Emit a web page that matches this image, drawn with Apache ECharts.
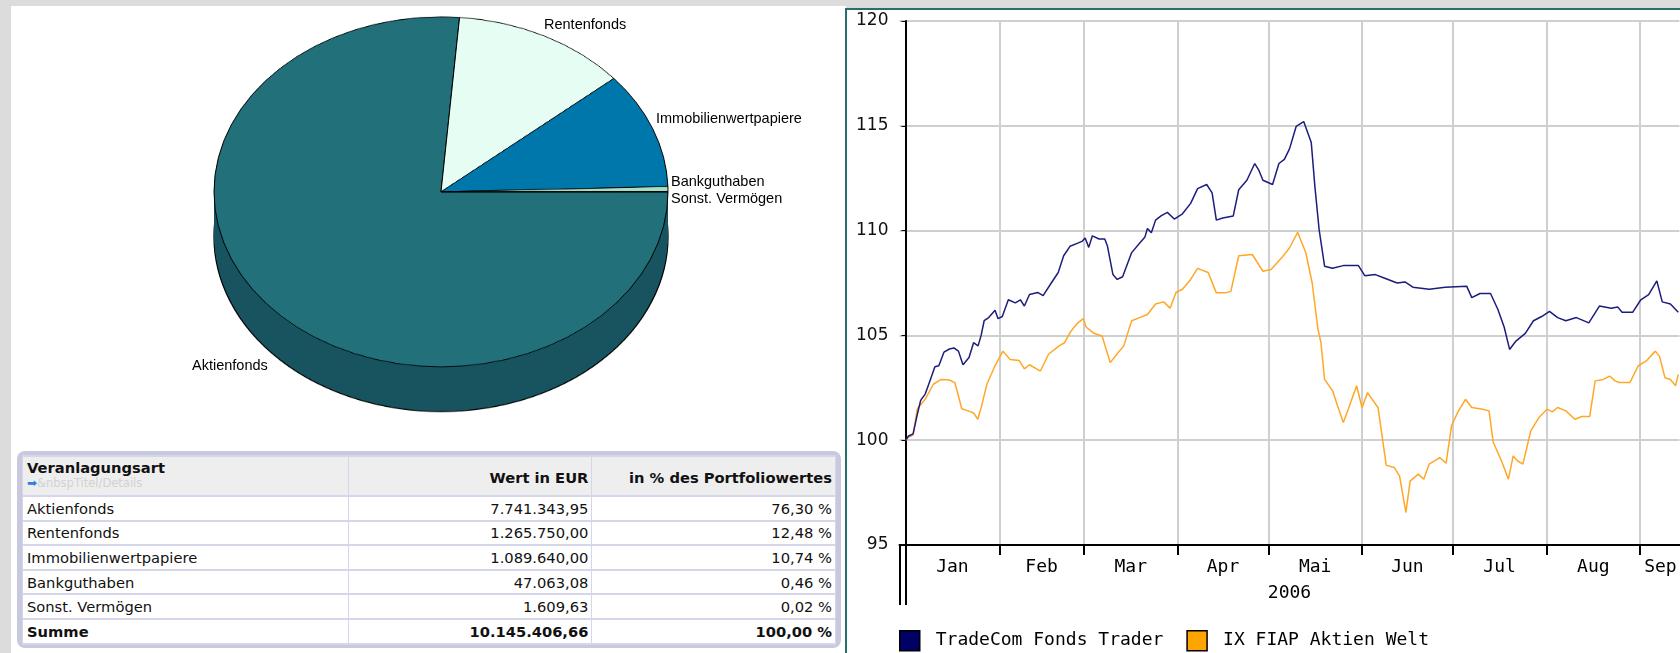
<!DOCTYPE html>
<html>
<head>
<meta charset="utf-8">
<script src="https://cdn.jsdelivr.net/npm/echarts@6/dist/echarts.min.js"></script>
<style>
html, body { margin:0; padding:0; width:1680px; height:653px; overflow:hidden; background:#dcdcdc; }
#leftPanel { position:absolute; left:11px; top:6px; width:835px; height:647px; background:#fff; }
#pie { position:absolute; left:11px; top:6px; width:835px; height:560px; transform-origin:0 0; transform:scaleY(0.7709); }
.pieLabel { position:absolute; font-family:'Liberation Sans', Arial, sans-serif; font-size:14.5px; line-height:1; color:#000; white-space:nowrap; }
#frame { position:absolute; left:17px; top:451px; width:824px; height:197px; background:#c8c8de; border-radius:8px; }
#assetTable { position:absolute; left:22px; top:455px; width:814px; border-collapse:separate; border-spacing:1px 2px; background:#d6d6ea;
  font-family:'DejaVu Sans', Verdana, sans-serif; font-size:14.7px; color:#111; table-layout:fixed; }
#assetTable td { background:#fff; height:22.6px; padding:0 4px; white-space:nowrap; overflow:hidden; line-height:17px; }
#assetTable td.num { text-align:right; padding-right:3px; }
#assetTable tr.head td { background:#eeeeee; height:36px; font-weight:bold; vertical-align:middle; padding-top:2px; padding-bottom:0; }
#assetTable tr.head td.first { vertical-align:top; padding-top:2px; }
#assetTable tr.sum td { font-weight:bold; }
.headMain { display:block; height:17px; line-height:17px; }
.sub { display:block; height:15px; line-height:15px; font-size:11.5px; font-weight:normal; color:#d2d2d2; overflow:hidden; }
.sub .arrow { color:#2f80e0; font-size:12px; font-family:'DejaVu Sans'; }
#rightPanel { position:absolute; left:845px; top:8px; width:840px; height:650px; background:#fff; border-left:2px solid #23706e; border-top:2px solid #23706e; }
#line { position:absolute; left:847px; top:10px; width:833px; height:643px; }
</style>
</head>
<body>
<div id="leftPanel"></div>
<div id="pie"></div>
<div id="frame"></div>
<table id="assetTable"></table>
<div id="rightPanel"></div>
<div id="line"></div>
<script>
// Portfolio composition
const assetNames = ['Aktienfonds', 'Rentenfonds', 'Immobilienwertpapiere', 'Bankguthaben', 'Sonst. Vermögen'];
const assetValues = [7741343.95, 1265750.00, 1089640.00, 47063.08, 1609.63];
const assetShares = [76.30, 12.48, 10.74, 0.46, 0.02];
const pieColors = ['#21707a', '#e6fdf4', '#0077aa', '#a8dcc4', '#3c7f80'];
const sideColor = '#185460';
const pieLabelPos = [[192, 358], [544, 17], [656, 111], [671, 174], [671, 191]];

// Performance 2006 (days since 1 Jan)
const traderDays = [0, 1, 2.5, 4, 5, 6.5, 8, 9.7, 11, 12.7, 14.5, 16, 17.5, 19, 21, 22.5, 24, 25, 26, 27.5, 29.6, 30.6, 32, 34, 36.3, 38, 39.3, 41, 43.7, 45.5, 48.2, 50.5, 52.3, 54.4, 57, 58.5, 59.4, 60.6, 61.8, 64, 65.9, 66.8, 68.6, 70, 71.8, 74.8, 77.4, 79.2, 80, 81.3, 82.7, 84.5, 86.6, 88.9, 91.6, 94.3, 96.6, 99.6, 101.4, 102.8, 104.9, 108.4, 110.2, 112.9, 115.5, 116.8, 118.2, 121.4, 123.5, 125.3, 127, 129.2, 131.7, 134.2, 135.4, 136.8, 138.6, 141.2, 144.8, 149.8, 151.9, 155.4, 158.1, 162.6, 165.2, 167.8, 173.2, 178.5, 185.6, 187.3, 190, 193.5, 195.9, 198, 199.8, 201.9, 205, 207.7, 210.4, 213, 215.7, 218.4, 221.9, 226, 229.5, 233.4, 235.6, 237, 240.5, 243.2, 245.8, 248.5, 250.3, 253, 255.6];
const traderValues = [100.0, 100.2, 100.3, 101.3, 101.9, 102.2, 102.8, 103.5, 103.55, 104.2, 104.35, 104.4, 104.25, 103.6, 103.95, 104.65, 104.5, 105.0, 105.7, 105.85, 106.2, 105.8, 105.9, 106.7, 106.55, 106.7, 106.4, 106.95, 107.05, 106.9, 107.5, 108.0, 108.8, 109.25, 109.4, 109.5, 109.65, 109.2, 109.75, 109.6, 109.6, 109.25, 107.9, 107.67, 107.8, 108.95, 109.4, 109.7, 110.1, 109.9, 110.5, 110.7, 110.87, 110.55, 110.8, 111.3, 112.0, 112.2, 111.8, 110.5, 110.6, 110.7, 111.95, 112.4, 113.2, 112.9, 112.4, 112.2, 113.2, 113.4, 113.9, 114.97, 115.2, 114.2, 112.1, 110.05, 108.3, 108.2, 108.33, 108.33, 107.85, 107.9, 107.75, 107.5, 107.55, 107.3, 107.2, 107.3, 107.35, 106.8, 107.0, 107.0, 106.25, 105.4, 104.33, 104.73, 105.1, 105.7, 105.9, 106.15, 105.85, 105.7, 105.85, 105.6, 106.4, 106.3, 106.35, 106.1, 106.1, 106.7, 106.95, 107.6, 106.6, 106.5, 106.1];
const fiapDays = [0, 1, 2.5, 3.9, 6.5, 9.2, 11.8, 14.5, 16.3, 18.6, 20.7, 22.5, 23.9, 25.1, 26.9, 29.6, 32.2, 34.6, 37.6, 39.3, 41, 44.6, 47.3, 50.8, 52.6, 54.7, 57, 58.8, 59.7, 62.3, 65, 67.7, 70.4, 72.2, 73.9, 74.8, 77.4, 80, 82.7, 85.4, 87.5, 89.5, 91.6, 94.3, 96.6, 100.1, 102.8, 105.8, 107.6, 110.2, 114.7, 118.2, 120.9, 124.4, 127, 129.7, 132.4, 134.5, 136.4, 137.4, 138.6, 141.3, 143, 144.8, 146.5, 149.2, 151, 152.8, 156.3, 159, 161.6, 163.4, 165.5, 166.9, 169.6, 171.4, 173.2, 176.7, 178.8, 180.6, 182.9, 185.2, 187.3, 190.9, 193, 194.4, 197.1, 199.4, 201, 202.4, 204.2, 206.8, 209.5, 212.2, 213.9, 215.7, 218.4, 221.4, 223.7, 226.3, 228.1, 230.8, 232.9, 234.7, 236.1, 239.6, 242.3, 245, 248, 249.4, 251.2, 253, 254.7, 255.6];
const fiapValues = [100.0, 100.15, 100.25, 101.5, 101.95, 102.67, 102.9, 102.87, 102.75, 101.5, 101.4, 101.3, 101.0, 101.6, 102.67, 103.55, 104.25, 103.85, 103.8, 103.4, 103.6, 103.3, 104.1, 104.5, 104.65, 105.2, 105.6, 105.8, 105.4, 105.1, 104.97, 103.7, 104.2, 104.5, 105.3, 105.7, 105.85, 106.0, 106.5, 106.6, 106.3, 107.06, 107.2, 107.67, 108.2, 108.0, 107.03, 107.03, 107.1, 108.8, 108.86, 108.06, 108.14, 108.7, 109.17, 109.92, 108.94, 107.5, 105.3, 104.65, 102.9, 102.35, 101.6, 100.84, 101.5, 102.6, 101.55, 102.27, 101.55, 98.8, 98.7, 98.3, 96.55, 98.05, 98.38, 98.14, 98.86, 99.17, 98.9, 100.7, 101.4, 101.95, 101.56, 101.48, 101.4, 99.9, 99.02, 98.14, 99.25, 99.02, 98.86, 100.44, 101.08, 101.48, 101.35, 101.56, 101.4, 101.0, 101.13, 101.13, 102.83, 102.9, 103.06, 102.83, 102.75, 102.75, 103.54, 103.78, 104.25, 104.0, 102.98, 102.9, 102.6, 103.14];
const monthStarts = [0, 31, 59, 90, 120, 151, 181, 212, 243];
const monthMids = [15.5, 45, 74.5, 105, 135.5, 166, 196.5, 227.5, 249.7];
const monthNames = ['Jan', 'Feb', 'Mar', 'Apr', 'Mai', 'Jun', 'Jul', 'Aug', 'Sep'];
const yearLabel = '2006';

// ---- pie (circle squashed by css to the ellipse of the 3d look) ----
const pieChart = echarts.init(document.getElementById('pie'));
const total = assetValues.reduce((a, b) => a + b, 0);
const pieCenter = [430, 241];
const pieRadius = 227;
const depthSteps = [58, 54, 50, 46, 42, 38, 34, 30, 26, 22, 18, 14, 10, 6, 2];
const pieSeries = depthSteps.map((k, i) => ({
    type: 'pie',
    radius: pieRadius,
    center: [pieCenter[0], pieCenter[1] + k],
    silent: true,
    label: {show: false},
    labelLine: {show: false},
    // only the lowest disc gets the dark outline, the others just fill the side
    itemStyle: {color: sideColor, borderColor: i === 0 ? '#000' : sideColor, borderWidth: i === 0 ? 1.3 : 0},
    data: [{name: 'Summe', value: total}]
}));
pieSeries.push({
    type: 'pie',
    radius: pieRadius,
    center: pieCenter,
    startAngle: 0,
    clockwise: true,
    silent: true,
    label: {show: false},
    labelLine: {show: false},
    itemStyle: {borderColor: '#000', borderWidth: 1},
    data: assetNames.map((n, i) => ({name: n, value: assetValues[i], itemStyle: {color: pieColors[i]}}))
});
pieChart.setOption({animation: false, series: pieSeries});

assetNames.forEach((n, i) => {
    const el = document.createElement('span');
    el.className = 'pieLabel';
    el.textContent = n;
    el.style.left = pieLabelPos[i][0] + 'px';
    el.style.top = pieLabelPos[i][1] + 'px';
    document.body.appendChild(el);
});

// ---- table ----
const fmt = v => v.toLocaleString('de-DE', {minimumFractionDigits: 2, maximumFractionDigits: 2});
let rows = '<colgroup><col style="width:324px"><col style="width:242px"><col style="width:242px"></colgroup>';
rows += '<tr class="head"><td class="first"><span class="headMain">Veranlagungsart</span><span class="sub"><span class="arrow">&#10145;</span>&amp;nbspTitel/Details</span></td>'
    + '<td class="num">Wert in EUR</td><td class="num">in % des Portfoliowertes</td></tr>';
assetNames.forEach((n, i) => {
    rows += `<tr><td>${n}</td><td class="num">${fmt(assetValues[i])}</td><td class="num">${fmt(assetShares[i])} %</td></tr>`;
});
const shareSum = assetShares.reduce((a, b) => a + b, 0);
rows += `<tr class="sum"><td>Summe</td><td class="num">${fmt(total)}</td><td class="num">${fmt(shareSum)} %</td></tr>`;
document.getElementById('assetTable').innerHTML = rows;

// ---- line chart ----
const lineChart = echarts.init(document.getElementById('line'));
const gridColor = '#cfcfcf';
lineChart.setOption({
    animation: false,
    grid: {left: 52.5, right: 0.5, top: 11, bottom: 108},
    legend: {
        left: 52, top: 620, padding: 0,
        icon: 'rect', itemWidth: 20, itemHeight: 20, itemGap: 23,
        itemStyle: {borderColor: '#000', borderWidth: 1.5},
        textStyle: {fontFamily: 'DejaVu Sans Mono', fontSize: 18, color: '#000', padding: [0, 0, 0, 11]},
        data: [
            {name: 'TradeCom Fonds Trader', itemStyle: {color: '#000066'}},
            {name: 'IX FIAP Aktien Welt', itemStyle: {color: '#ffa500'}}
        ]
    },
    xAxis: [
        {
            type: 'value', min: -2, max: 256,
            axisLine: {lineStyle: {color: '#000', width: 2}},
            axisTick: {customValues: monthStarts, length: 10, lineStyle: {color: '#000', width: 2}},
            axisLabel: {
                customValues: monthMids, margin: 13,
                fontFamily: 'DejaVu Sans Mono', fontSize: 18, color: '#000',
                formatter: (v) => monthNames[monthMids.indexOf(v)]
            },
            splitLine: {show: true, lineStyle: {color: gridColor, width: 2}},
            name: yearLabel, nameLocation: 'middle', nameGap: 39,
            nameTextStyle: {fontFamily: 'DejaVu Sans Mono', fontSize: 18, color: '#000'}
        },
        {
            type: 'value', min: -2, max: 256, position: 'bottom',
            axisLine: {show: false},
            axisTick: {customValues: [-2, 0], length: 60, lineStyle: {color: '#000', width: 2}},
            axisLabel: {show: false},
            splitLine: {show: false}
        }
    ],
    yAxis: {
        type: 'value', min: 95, max: 120, interval: 5,
        axisLine: {show: true, lineStyle: {color: '#000', width: 2}},
        axisTick: {show: true, length: 4, lineStyle: {color: '#000', width: 1}},
        axisLabel: {margin: 11, fontFamily: 'DejaVu Sans', fontSize: 17, color: '#111'},
        splitLine: {lineStyle: {color: gridColor, width: 2}}
    },
    series: [
        {
            name: 'TradeCom Fonds Trader', type: 'line', color: '#1d1d7c',
            showSymbol: false, lineStyle: {width: 1.5},
            data: traderDays.map((d, i) => [d, traderValues[i]]), z: 3
        },
        {
            name: 'IX FIAP Aktien Welt', type: 'line', color: '#ffa726',
            showSymbol: false, lineStyle: {width: 1.5},
            data: fiapDays.map((d, i) => [d, fiapValues[i]]), z: 2
        }
    ]
});
</script>
</body>
</html>
